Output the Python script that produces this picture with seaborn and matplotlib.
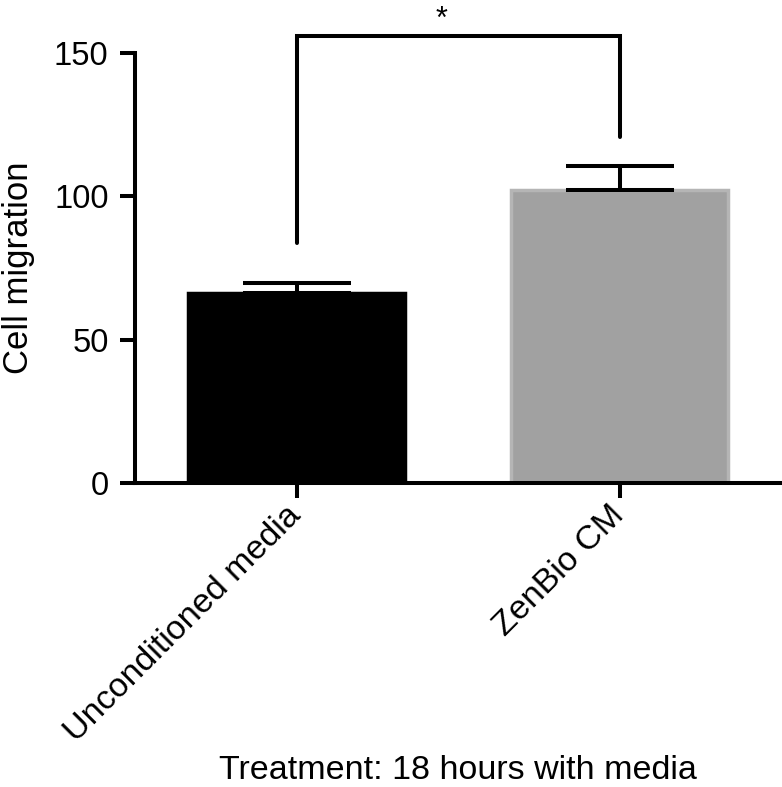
import numpy as np
import pandas as pd
import matplotlib
matplotlib.use("Agg")
import matplotlib.pyplot as plt
import seaborn as sns

# values
groups = ["Unconditioned media", "ZenBio CM"]
means = [66.3, 102.2]
errors = [3.5, 8.4]          # upper error only
bar_colors = ["#000000", "#a1a1a1"]
edge_colors = ["#000000", "#b5b5b5"]
bracket_starts = [83.7, 120.7]
bracket_top = 155.9
star_y = 161.5

sns.set_theme(style="ticks")
plt.rcParams["font.family"] = ["Liberation Sans", "DejaVu Sans"]
plt.rcParams["text.color"] = "black"
plt.rcParams["axes.labelcolor"] = "black"
plt.rcParams["xtick.color"] = "black"
plt.rcParams["ytick.color"] = "black"

df = pd.DataFrame({"group": groups, "migration": means})

fig = plt.figure(figsize=(7.82, 7.87), dpi=100)
ax = fig.add_axes([135 / 782, (787 - 483) / 787, (781 - 135) / 782, (483 - 53) / 787])

sns.barplot(data=df, x="group", y="migration", hue="group", palette=bar_colors,
            width=0.67, errorbar=None, legend=False, ax=ax, saturation=1)
for patch, ec in zip(ax.patches, edge_colors):
    patch.set_edgecolor(ec)
    patch.set_linewidth(2.5)

xpos = np.arange(len(groups))
ax.errorbar(xpos, means, yerr=[np.zeros(len(errors)), errors], fmt="none",
            ecolor="black", elinewidth=2.9, capsize=39, capthick=2.9, zorder=3)

# significance bracket
lw = 2.9
ax.plot([xpos[0], xpos[0], xpos[1], xpos[1]],
        [bracket_starts[0], bracket_top, bracket_top, bracket_starts[1]],
        color="black", lw=lw, clip_on=False, solid_capstyle="round",
        solid_joinstyle="miter")
ax.text(0.45, star_y, "*", ha="center", va="center", fontsize=22, clip_on=False)

ax.set_xlim(-0.5, 1.5)
ax.set_ylim(0, 150)
ax.set_yticks([0, 50, 100, 150])
sns.despine(ax=ax)
for s in ["left", "bottom"]:
    ax.spines[s].set_linewidth(lw)
    ax.spines[s].set_color("black")
ax.tick_params(axis="both", length=11, width=lw, color="black", labelcolor="black")
ax.tick_params(axis="y", labelsize=23.5, pad=8)
ax.tick_params(axis="x", labelsize=24.5, pad=9)
for lab in ax.get_xticklabels():
    lab.set_rotation(45)
    lab.set_ha("right")
    lab.set_va("center")
    lab.set_rotation_mode("anchor")

ax.set_ylabel("Cell migration", fontsize=25, labelpad=14)
ax.set_xlabel("Treatment: 18 hours with media", fontsize=24.5, labelpad=5)

fig.savefig("out.png", dpi=100)
